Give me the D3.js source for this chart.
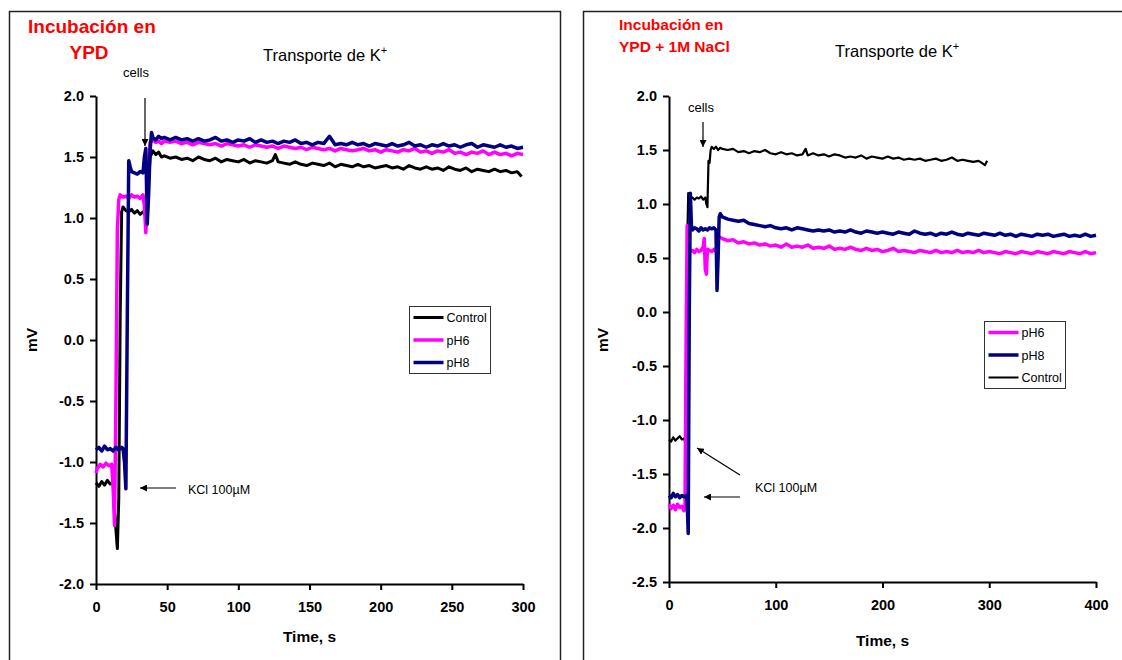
<!DOCTYPE html>
<html><head><meta charset="utf-8">
<script src="https://cdn.jsdelivr.net/npm/d3@7"></script>
<style>body{margin:0;background:#fff}svg{display:block;font-family:Arial,"Liberation Sans",sans-serif}</style>
</head><body><svg id="c" width="1122" height="660"></svg>
<script>
// ---------- DATA ----------
const leftXTicks = [0,50,100,150,200,250,300];
const leftYTicks = [-2.0,-1.5,-1.0,-0.5,0.0,0.5,1.0,1.5,2.0];
const rightXTicks = [0,100,200,300,400];
const rightYTicks = [-2.5,-2.0,-1.5,-1.0,-0.5,0.0,0.5,1.0,1.5,2.0];

const leftControl = [[0,-1.17],[2,-1.20],[4,-1.16],[6,-1.19],[8,-1.15],[10,-1.18],[12,-1.17],[13,-1.4],[15,-1.71],[16,-1.3],[17,0.2],[18,1.05],[19,1.09],[21,1.06],[23,1.05],[25,1.07],[27,1.04],[29,1.06],[31,1.03],[33,1.05],[35,1.02],[36,0.97],[37,1.3],[38,1.50],[40,1.55],[42,1.52],[44,1.54],[46,1.50],[48,1.51],[52,1.49],[56,1.50],[60,1.48],[64,1.49],[68,1.47],[72,1.50],[76,1.48],[80,1.47],[84,1.49],[88,1.46],[92,1.48],[96,1.47],[100,1.46],[104,1.48],[108,1.45],[112,1.47],[116,1.46],[120,1.45],[124,1.47],[126,1.52],[128,1.46],[132,1.45],[136,1.44],[140,1.46],[144,1.44],[148,1.43],[152,1.45],[156,1.44],[160,1.43],[164,1.45],[168,1.42],[172,1.44],[176,1.43],[180,1.42],[184,1.44],[188,1.42],[192,1.43],[196,1.41],[200,1.42],[204,1.43],[208,1.41],[212,1.42],[216,1.40],[220,1.43],[224,1.41],[228,1.40],[232,1.42],[236,1.40],[240,1.41],[244,1.39],[248,1.42],[252,1.40],[256,1.39],[260,1.41],[264,1.38],[268,1.40],[272,1.39],[276,1.38],[280,1.40],[284,1.38],[288,1.39],[292,1.37],[296,1.38],[299,1.34]];
const leftPH6 = [[0,-1.09],[1,-1.05],[3,-1.02],[5,-1.04],[7,-1.01],[9,-1.03],[11,-1.02],[12,-1.2],[13,-1.52],[14,-0.5],[15,0.9],[16,1.15],[17,1.19],[19,1.17],[21,1.18],[23,1.16],[25,1.19],[27,1.17],[29,1.18],[31,1.16],[33,1.19],[34,1.1],[35,0.88],[36,1.1],[37,1.45],[38,1.62],[40,1.64],[42,1.62],[44,1.63],[46,1.61],[48,1.63],[52,1.62],[56,1.63],[60,1.61],[64,1.62],[68,1.60],[72,1.62],[76,1.61],[80,1.60],[84,1.61],[88,1.59],[92,1.61],[96,1.60],[100,1.59],[104,1.60],[108,1.58],[112,1.60],[116,1.59],[120,1.58],[124,1.59],[128,1.57],[132,1.59],[136,1.58],[140,1.57],[144,1.58],[148,1.56],[152,1.58],[156,1.57],[160,1.56],[164,1.57],[168,1.55],[172,1.57],[176,1.56],[180,1.55],[184,1.56],[188,1.57],[192,1.55],[196,1.56],[200,1.54],[204,1.56],[208,1.55],[212,1.54],[216,1.56],[220,1.55],[224,1.57],[228,1.54],[232,1.55],[236,1.53],[240,1.55],[244,1.54],[248,1.56],[252,1.53],[256,1.54],[260,1.52],[264,1.54],[268,1.53],[272,1.55],[276,1.52],[280,1.54],[284,1.52],[288,1.53],[292,1.51],[296,1.53],[300,1.52]];
const leftPH8 = [[0,-0.90],[2,-0.88],[4,-0.91],[6,-0.87],[8,-0.90],[10,-0.89],[12,-0.91],[14,-0.88],[16,-0.90],[18,-0.88],[19,-0.89],[20,-1.0],[21,-1.22],[22,0.2],[23,1.47],[24,1.42],[25,1.38],[27,1.37],[29,1.36],[31,1.38],[33,1.37],[34,1.50],[35,1.57],[36,0.95],[37,1.2],[38,1.55],[39,1.70],[40,1.66],[42,1.64],[44,1.67],[46,1.65],[48,1.66],[52,1.64],[56,1.66],[60,1.64],[64,1.65],[68,1.63],[72,1.65],[76,1.63],[80,1.64],[84,1.66],[88,1.63],[92,1.64],[96,1.62],[100,1.64],[104,1.63],[108,1.65],[112,1.62],[116,1.64],[120,1.62],[124,1.63],[128,1.61],[132,1.63],[136,1.62],[140,1.64],[144,1.61],[148,1.62],[152,1.60],[156,1.62],[160,1.61],[164,1.67],[168,1.60],[172,1.61],[176,1.60],[180,1.62],[184,1.60],[188,1.61],[192,1.59],[196,1.61],[200,1.60],[204,1.59],[208,1.61],[212,1.59],[216,1.60],[220,1.62],[224,1.59],[228,1.60],[232,1.58],[236,1.60],[240,1.59],[244,1.61],[248,1.59],[252,1.60],[256,1.58],[260,1.60],[264,1.61],[268,1.58],[272,1.60],[276,1.59],[280,1.58],[284,1.60],[288,1.58],[292,1.59],[296,1.57],[300,1.58]];

const rightControl = [[0,-1.18],[2,-1.20],[4,-1.16],[6,-1.19],[8,-1.17],[10,-1.15],[12,-1.18],[14,-1.17],[15,-1.2],[16,-0.5],[17,0.6],[18,1.10],[19,1.08],[20,1.05],[22,1.06],[24,1.04],[26,1.06],[28,1.05],[30,1.07],[32,1.04],[34,1.06],[35,1.0],[36,0.97],[37,1.40],[38,1.38],[39,1.50],[40,1.53],[42,1.51],[44,1.53],[46,1.50],[48,1.52],[50,1.51],[55,1.50],[60,1.51],[65,1.48],[70,1.49],[75,1.47],[80,1.49],[85,1.48],[90,1.50],[95,1.47],[100,1.46],[105,1.48],[110,1.46],[115,1.47],[120,1.45],[125,1.46],[128,1.51],[130,1.45],[135,1.47],[140,1.45],[145,1.46],[150,1.44],[155,1.46],[160,1.45],[165,1.43],[170,1.44],[175,1.43],[180,1.45],[185,1.42],[190,1.44],[195,1.43],[200,1.42],[205,1.44],[210,1.42],[215,1.43],[220,1.41],[225,1.42],[230,1.41],[235,1.42],[240,1.40],[245,1.41],[250,1.42],[255,1.40],[260,1.41],[265,1.43],[270,1.40],[275,1.41],[280,1.40],[285,1.39],[290,1.40],[293,1.38],[296,1.36],[298,1.40]];
const rightPH8 = [[0,-1.70],[2,-1.72],[4,-1.68],[6,-1.71],[8,-1.69],[10,-1.72],[12,-1.70],[14,-1.71],[16,-1.70],[17,-1.75],[18,-2.05],[19,0.0],[20,1.10],[21,0.80],[22,0.76],[24,0.78],[26,0.77],[28,0.75],[30,0.78],[32,0.76],[34,0.77],[36,0.76],[38,0.78],[40,0.77],[42,0.78],[44,0.76],[45,0.2],[46,0.5],[47,0.88],[48,0.91],[50,0.88],[55,0.86],[60,0.85],[65,0.84],[70,0.85],[75,0.82],[80,0.81],[85,0.80],[90,0.79],[95,0.80],[100,0.78],[105,0.77],[110,0.78],[115,0.76],[120,0.78],[125,0.77],[130,0.76],[135,0.75],[140,0.76],[145,0.75],[150,0.76],[155,0.74],[160,0.75],[165,0.74],[170,0.76],[175,0.74],[180,0.73],[185,0.75],[190,0.74],[195,0.73],[200,0.74],[205,0.73],[210,0.72],[215,0.74],[220,0.73],[225,0.72],[230,0.75],[235,0.73],[240,0.72],[245,0.73],[250,0.71],[255,0.73],[260,0.72],[265,0.74],[270,0.72],[275,0.71],[280,0.73],[285,0.72],[290,0.71],[295,0.73],[300,0.72],[305,0.71],[310,0.73],[315,0.71],[320,0.72],[325,0.70],[330,0.72],[335,0.71],[340,0.70],[345,0.72],[350,0.71],[355,0.72],[360,0.70],[365,0.71],[370,0.72],[375,0.70],[380,0.71],[385,0.70],[390,0.72],[395,0.70],[400,0.71]];
const rightPH6 = [[0,-1.78],[2,-1.82],[4,-1.79],[6,-1.83],[8,-1.78],[10,-1.81],[12,-1.80],[14,-1.84],[15,-1.80],[16,-0.3],[17,0.80],[18,0.62],[20,0.56],[22,0.57],[24,0.55],[26,0.58],[28,0.56],[30,0.57],[32,0.60],[33,0.68],[34,0.40],[35,0.35],[36,0.58],[38,0.57],[40,0.56],[42,0.58],[44,0.56],[46,0.70],[48,0.69],[50,0.68],[55,0.66],[60,0.67],[65,0.64],[70,0.65],[75,0.63],[80,0.64],[85,0.62],[90,0.63],[95,0.61],[100,0.62],[105,0.60],[110,0.63],[115,0.60],[120,0.61],[125,0.60],[130,0.62],[135,0.59],[140,0.60],[145,0.59],[150,0.61],[155,0.58],[160,0.59],[165,0.58],[170,0.60],[175,0.58],[180,0.57],[185,0.59],[190,0.57],[195,0.58],[200,0.56],[205,0.57],[210,0.59],[215,0.56],[220,0.57],[225,0.56],[230,0.55],[235,0.57],[240,0.56],[245,0.55],[250,0.57],[255,0.55],[260,0.56],[265,0.55],[270,0.57],[275,0.55],[280,0.56],[285,0.55],[290,0.57],[295,0.55],[300,0.56],[305,0.55],[310,0.54],[315,0.56],[320,0.55],[325,0.54],[330,0.56],[335,0.55],[340,0.54],[345,0.56],[350,0.55],[355,0.54],[360,0.56],[365,0.55],[370,0.54],[375,0.56],[380,0.55],[385,0.54],[390,0.56],[395,0.54],[400,0.55]];

// ---------- DRAW ----------
const svg = d3.select("#c");
const MAG = "#ff00ff", NAVY = "#000080", BLK = "#000";

svg.append("rect").attr("x",9.5).attr("y",11.5).attr("width",551).attr("height",700)
  .attr("fill","none").attr("stroke","#222").attr("stroke-width",1.5);
svg.append("rect").attr("x",583.5).attr("y",11.5).attr("width",600).attr("height",700)
  .attr("fill","none").attr("stroke","#222").attr("stroke-width",1.5);

svg.append("defs").append("marker").attr("id","ah").attr("viewBox","0 0 10 10")
  .attr("refX",10).attr("refY",5).attr("markerWidth",7).attr("markerHeight",7)
  .attr("markerUnits","userSpaceOnUse").attr("orient","auto")
  .append("path").attr("d","M0,0 L10,5 L0,10 Z").attr("fill","#000");

const fmtY = d => d3.format(".1f")(d).replace("\u2212","-");

function panel(cfg){
  const x = d3.scaleLinear().domain(cfg.xd).range([cfg.x0,cfg.x1]);
  const y = d3.scaleLinear().domain(cfg.yd).range([cfg.y0,cfg.y1]);
  const g = svg.append("g");
  const ya = g.append("g").attr("transform",`translate(${cfg.x0},0)`)
    .call(d3.axisLeft(y).tickValues(cfg.yt).tickFormat(fmtY).tickSize(6).tickSizeOuter(0).tickPadding(6));
  const xa = g.append("g").attr("transform",`translate(0,${cfg.y0})`)
    .call(d3.axisBottom(x).tickValues(cfg.xt).tickFormat(d3.format("d")).tickSize(6).tickSizeOuter(0).tickPadding(12));
  [ya,xa].forEach(a=>{
    a.selectAll("path,line").attr("stroke","#000").attr("stroke-width",2);
    a.selectAll("text").attr("font-size",14.5).attr("font-weight","bold").attr("fill","#000")
      .attr("font-family",'Arial,"Liberation Sans",sans-serif');
  });
  const line = d3.line().x(d=>x(d[0])).y(d=>y(d[1]));
  cfg.series.forEach(s=>{
    g.append("path").datum(s.data).attr("d",line).attr("fill","none")
      .attr("stroke",s.color).attr("stroke-width",s.w).attr("stroke-linejoin","round");
  });
  g.append("text").attr("x",(cfg.x0+cfg.x1)/2).attr("y",cfg.xlabY).attr("text-anchor","middle")
    .attr("font-size",15.5).attr("font-weight","bold").text("Time, s");
  g.append("text").attr("transform",`translate(${cfg.mvX},340) rotate(-90)`).attr("text-anchor","middle")
    .attr("font-size",15.5).attr("font-weight","bold").text("mV");
  const L = cfg.legend;
  g.append("rect").attr("x",L.x).attr("y",L.y).attr("width",81).attr("height",67)
    .attr("fill","#fff").attr("stroke","#333").attr("stroke-width",1);
  L.items.forEach((it,i)=>{
    const yy = L.y + 11 + i*22.5;
    g.append("line").attr("x1",L.x+4).attr("x2",L.x+34).attr("y1",yy).attr("y2",yy)
      .attr("stroke",it.color).attr("stroke-width",it.w);
    g.append("text").attr("x",L.x+37).attr("y",yy+4.5).attr("font-size",12.5).text(it.name);
  });
  return {x,y,g};
}

panel({xd:[0,300], yd:[-2,2], x0:96, x1:523, y0:584, y1:96, xt:leftXTicks, yt:leftYTicks,
  xlabY:642, mvX:37,
  series:[{data:leftControl,color:BLK,w:3},{data:leftPH6,color:MAG,w:3.5},{data:leftPH8,color:NAVY,w:3.5}],
  legend:{x:409.5,y:306.5,items:[{name:"Control",color:BLK,w:3},{name:"pH6",color:MAG,w:3.5},{name:"pH8",color:NAVY,w:3.5}]}
});
panel({xd:[0,400], yd:[-2.5,2], x0:669, x1:1096, y0:582, y1:96, xt:rightXTicks, yt:rightYTicks,
  xlabY:646, mvX:608,
  series:[{data:rightControl,color:BLK,w:2.2},{data:rightPH6,color:MAG,w:3.5},{data:rightPH8,color:NAVY,w:3.5}],
  legend:{x:984.5,y:321.5,items:[{name:"pH6",color:MAG,w:3.5},{name:"pH8",color:NAVY,w:3.5},{name:"Control",color:BLK,w:2}]}
});

function t(x,y,s,size,opts={}){
  const e = svg.append("text").attr("x",x).attr("y",y).attr("font-size",size).text(s);
  if(opts.bold) e.attr("font-weight","bold");
  if(opts.fill) e.attr("fill",opts.fill);
  if(opts.anchor) e.attr("text-anchor",opts.anchor);
  return e;
}
t(28,33,"Incubación en",19,{bold:1,fill:"#ff0000"});
t(89,59,"YPD",19,{bold:1,fill:"#ff0000",anchor:"middle"});
function kt(x,y){
  const e = t(x,y,"Transporte de K",16.5);
  e.append("tspan").attr("font-size",11).attr("dy",-7).text("+");
}
kt(263,61);
kt(835,57);
t(619,30,"Incubación en",15.5,{bold:1,fill:"#ff0000"});
t(619,52,"YPD + 1M NaCl",15.5,{bold:1,fill:"#ff0000"});

function arrow(x1,y1,x2,y2){
  svg.append("line").attr("x1",x1).attr("y1",y1).attr("x2",x2).attr("y2",y2)
    .attr("stroke","#000").attr("stroke-width",1.2).attr("marker-end","url(#ah)");
}
t(123,77,"cells",13);
arrow(145,98,145,146);
t(188,494,"KCl 100µM",12.5);
arrow(176,488,140,488);

t(688,112,"cells",13);
arrow(703,122,703,147);
t(755,492,"KCl 100µM",12.5);
arrow(740,475,697,448);
arrow(740,497,704,497);
</script></body></html>
